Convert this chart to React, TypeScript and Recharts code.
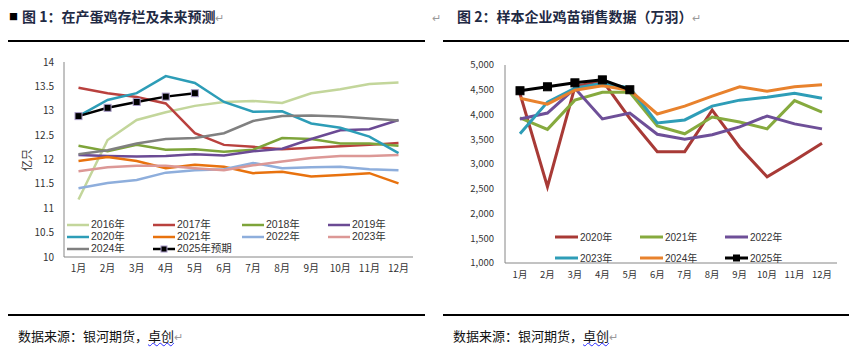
import React from 'react';
import { LineChart, Line, XAxis, YAxis } from 'recharts';

const months = ['1月', '2月', '3月', '4月', '5月', '6月', '7月', '8月', '9月', '10月', '11月', '12月'];

// Figure 1: laying-hen inventory (亿只)
const inv2016 = [11.18, 12.4, 12.81, 12.97, 13.1, 13.18, 13.2, 13.16, 13.36, 13.44, 13.55, 13.58];
const inv2017 = [13.47, 13.36, 13.28, 13.15, 12.54, 12.3, 12.26, 12.21, 12.24, 12.27, 12.3, 12.34];
const inv2018 = [12.28, 12.17, 12.3, 12.2, 12.21, 12.16, 12.2, 12.44, 12.42, 12.33, 12.33, 12.28];
const inv2019 = [12.09, 12.07, 12.06, 12.07, 12.11, 12.08, 12.17, 12.22, 12.42, 12.6, 12.62, 12.81];
const inv2020 = [12.89, 13.22, 13.36, 13.71, 13.57, 13.18, 12.98, 12.99, 12.74, 12.65, 12.47, 12.13];
const inv2021 = [11.97, 12.05, 11.97, 11.82, 11.89, 11.85, 11.72, 11.75, 11.65, 11.68, 11.72, 11.51];
const inv2022 = [11.41, 11.52, 11.58, 11.73, 11.78, 11.8, 11.93, 11.82, 11.84, 11.85, 11.8, 11.78];
const inv2023 = [11.76, 11.84, 11.87, 11.87, 11.82, 11.78, 11.88, 11.96, 12.03, 12.07, 12.07, 12.09];
const inv2024 = [12.11, 12.19, 12.33, 12.42, 12.44, 12.54, 12.79, 12.89, 12.9, 12.88, 12.84, 12.8];
const inv2025 = [12.89, 13.06, 13.18, 13.29, 13.36, null, null, null, null, null, null, null];
const leftTicks = [10, 10.5, 11, 11.5, 12, 12.5, 13, 13.5, 14];

// Figure 2: chick sales (万羽)
const chick2020 = [4420, 2540, 4560, 4690, 3920, 3250, 3250, 4090, 3340, 2740, 3070, 3420];
const chick2021 = [3930, 3700, 4290, 4450, 4450, 3770, 3610, 3950, 3850, 3710, 4280, 4050];
const chick2022 = [3910, 4030, 4530, 3910, 4030, 3600, 3500, 3590, 3750, 3970, 3810, 3710];
const chick2023 = [3610, 4250, 4530, 4630, 4540, 3830, 3890, 4170, 4290, 4350, 4430, 4330];
const chick2024 = [4330, 4210, 4490, 4580, 4490, 4010, 4170, 4370, 4560, 4470, 4560, 4600];
const chick2025 = [4480, 4560, 4640, 4700, 4500, null, null, null, null, null, null, null];
const rightTicks = [1000, 1500, 2000, 2500, 3000, 3500, 4000, 4500, 5000];

const leftSeries = [
  { key: 'y2016', name: '2016年', values: inv2016, color: '#C3D69B' },
  { key: 'y2017', name: '2017年', values: inv2017, color: '#B9413E' },
  { key: 'y2018', name: '2018年', values: inv2018, color: '#7EA43A' },
  { key: 'y2019', name: '2019年', values: inv2019, color: '#6B4A94' },
  { key: 'y2020', name: '2020年', values: inv2020, color: '#2D9DB7' },
  { key: 'y2021', name: '2021年', values: inv2021, color: '#E8720E' },
  { key: 'y2022', name: '2022年', values: inv2022, color: '#8EAEDC' },
  { key: 'y2023', name: '2023年', values: inv2023, color: '#DC9896' },
  { key: 'y2024', name: '2024年', values: inv2024, color: '#808080' },
  { key: 'y2025', name: '2025年预期', values: inv2025, color: '#000000', marker: true },
];

const rightSeries = [
  { key: 'c2020', name: '2020年', values: chick2020, color: '#A83A36' },
  { key: 'c2021', name: '2021年', values: chick2021, color: '#86AA3E' },
  { key: 'c2022', name: '2022年', values: chick2022, color: '#6E4F98' },
  { key: 'c2023', name: '2023年', values: chick2023, color: '#2E9DB7' },
  { key: 'c2024', name: '2024年', values: chick2024, color: '#E8822D' },
  { key: 'c2025', name: '2025年', values: chick2025, color: '#000000', marker: true },
];

const leftData = months.map((m, i) => {
  const row: any = { month: m };
  leftSeries.forEach((s) => (row[s.key] = s.values[i]));
  return row;
});
const rightData = months.map((m, i) => {
  const row: any = { month: m };
  rightSeries.forEach((s) => (row[s.key] = s.values[i]));
  return row;
});

const FONT = '"Noto Sans CJK SC", "Noto Sans", sans-serif';
const LEGEND_FONT = '"Liberation Sans", "Noto Sans CJK SC", sans-serif';
const TITLE_COLOR = '#1F2A44';

const makeSquareDot = (size: number, fill: string, stroke: string) => (props: any) => {
  const { cx, cy, index, value } = props;
  if (cx == null || cy == null || value == null) return <g key={`d${index}`} />;
  return (
    <rect
      key={`d${index}`}
      x={cx - size / 2}
      y={cy - size / 2}
      width={size}
      height={size}
      fill={fill}
      stroke={stroke}
      strokeWidth={1}
    />
  );
};

const Swatch = ({ color, marker, w, sw, ms, mstroke }: any) => (
  <svg width={w} height={10} style={{ display: 'block', flex: 'none' }}>
    <line x1={0} y1={5} x2={w} y2={5} stroke={color} strokeWidth={sw} />
    {marker ? (
      <rect x={w / 2 - ms / 2} y={5 - ms / 2} width={ms} height={ms} fill="#000" stroke={mstroke} strokeWidth={1} />
    ) : null}
  </svg>
);

const LegendItem = ({ s, x, y, w, sw, ms, mstroke, fontSize }: any) => (
  <div
    style={{
      position: 'absolute',
      left: x,
      top: y - 5.5,
      height: 11,
      lineHeight: '11px',
      display: 'flex',
      alignItems: 'center',
      whiteSpace: 'nowrap',
      fontSize,
      color: '#333',
      fontFamily: LEGEND_FONT,
    }}
  >
    <Swatch color={s.color} marker={s.marker} w={w} sw={sw} ms={ms} mstroke={mstroke} />
    <span style={{ marginLeft: 2, lineHeight: '11px' }}>{s.name}</span>
  </div>
);

const Rule = ({ x, y, w }: any) => (
  <div style={{ position: 'absolute', left: x, top: y, width: w, height: 1.5, background: '#000' }} />
);

const Para = () => <span style={{ color: '#9a9a9a', fontWeight: 400, fontSize: 11 }}>↵</span>;

export default function App() {
  const leftCols = [67, 153, 242, 328];
  const leftRows = [224.5, 236.5, 248.5];
  const rightCols = [555, 640, 725];
  const rightRows = [237, 258];
  const axisStroke = '#868686';
  const tickStyle = { fontSize: 10, fill: '#333', fontFamily: FONT };
  const tickStyleR = { fontSize: 9.5, fill: '#333', fontFamily: FONT };

  return (
    <div
      style={{
        position: 'absolute',
        left: 0,
        top: 0,
        width: 849,
        height: 355,
        background: '#fff',
        overflow: 'hidden',
        fontFamily: FONT,
      }}
    >
      {/* titles */}
      <div
        style={{
          position: 'absolute',
          left: 9,
          top: 6,
          fontSize: 14,
          fontWeight: 700,
          color: TITLE_COLOR,
          whiteSpace: 'nowrap',
          lineHeight: '20px',
        }}
      >
        <span style={{ color: '#000', fontSize: 9, verticalAlign: 2, marginRight: 4 }}>■</span>
        图 1：在产蛋鸡存栏及未来预测
        <Para />
      </div>
      <div
        style={{
          position: 'absolute',
          left: 432,
          top: 6,
          fontSize: 14,
          fontWeight: 700,
          color: TITLE_COLOR,
          whiteSpace: 'nowrap',
          lineHeight: '20px',
        }}
      >
        <Para />
        <span style={{ marginLeft: 16 }}>图 2：样本企业鸡苗销售数据（万羽）</span>
        <Para />
      </div>

      <Rule x={8} y={40} w={417} />
      <Rule x={443} y={40} w={406} />
      <Rule x={8} y={314} w={417} />
      <Rule x={443} y={314} w={406} />

      {/* left chart */}
      <div style={{ position: 'absolute', left: 0, top: 0 }}>
        <LineChart width={425} height={290} data={leftData} margin={{ top: 62, right: 12, bottom: 3, left: 0 }}>
          <XAxis
            dataKey="month"
            tickLine={false}
            axisLine={{ stroke: axisStroke }}
            tick={tickStyle}
            interval={0}
            height={30}
            padding={{ left: 14.5, right: 14.5 }}
          />
          <YAxis
            type="number"
            domain={[10, 14]}
            ticks={leftTicks}
            interval={0}
            width={64}
            tickLine={false}
            axisLine={{ stroke: axisStroke }}
            tick={tickStyle}
            tickMargin={4}
          />
          {leftSeries.map((s) => (
            <Line
              key={s.key}
              dataKey={s.key}
              name={s.name}
              stroke={s.color}
              strokeWidth={2.5}
              dot={s.marker ? makeSquareDot(7, '#000', '#A99BC9') : false}
              activeDot={false}
              isAnimationActive={false}
              type="linear"
            />
          ))}
        </LineChart>
      </div>
      <div
        style={{
          position: 'absolute',
          left: 26,
          top: 160,
          transform: 'translate(-50%, -50%) rotate(-90deg)',
          fontSize: 11,
          color: '#333',
          whiteSpace: 'nowrap',
        }}
      >
        亿只
      </div>
      {leftSeries.map((s, i) => (
        <LegendItem
          key={s.key}
          s={s}
          x={leftCols[i % 4]}
          y={leftRows[Math.floor(i / 4)]}
          w={22}
          sw={2.5}
          ms={6}
          mstroke="#A99BC9"
          fontSize={10.5}
        />
      ))}

      {/* right chart */}
      <div style={{ position: 'absolute', left: 430, top: 0 }}>
        <LineChart width={419} height={300} data={rightData} margin={{ top: 65, right: 12, bottom: 7, left: 0 }}>
          <XAxis
            dataKey="month"
            tickLine={false}
            axisLine={{ stroke: axisStroke }}
            tick={tickStyleR}
            interval={0}
            height={30}
            padding={{ left: 15, right: 15 }}
          />
          <YAxis
            type="number"
            domain={[1000, 5000]}
            ticks={rightTicks}
            interval={0}
            width={75}
            tickLine={false}
            axisLine={{ stroke: axisStroke }}
            tick={tickStyleR}
            tickMargin={5}
            tickFormatter={(v: number) => v.toLocaleString('en-US')}
          />
          {rightSeries.map((s) => (
            <Line
              key={s.key}
              dataKey={s.key}
              name={s.name}
              stroke={s.color}
              strokeWidth={3}
              dot={s.marker ? makeSquareDot(8, '#000', '#000') : false}
              activeDot={false}
              isAnimationActive={false}
              type="linear"
            />
          ))}
        </LineChart>
      </div>
      {rightSeries.map((s, i) => (
        <LegendItem
          key={s.key}
          s={s}
          x={rightCols[i % 3]}
          y={rightRows[Math.floor(i / 3)]}
          w={23}
          sw={3}
          ms={6}
          mstroke="#000"
          fontSize={10}
        />
      ))}

      {/* sources */}
      {[18, 453].map((x) => (
        <div
          key={x}
          style={{
            position: 'absolute',
            left: x,
            top: 327,
            fontSize: 13,
            color: '#111',
            whiteSpace: 'nowrap',
            lineHeight: '18px',
          }}
        >
          数据来源：银河期货，
          <span style={{ textDecoration: 'underline wavy #2a2aff', textDecorationThickness: 1 }}>卓创</span>
          <Para />
        </div>
      ))}
    </div>
  );
}
